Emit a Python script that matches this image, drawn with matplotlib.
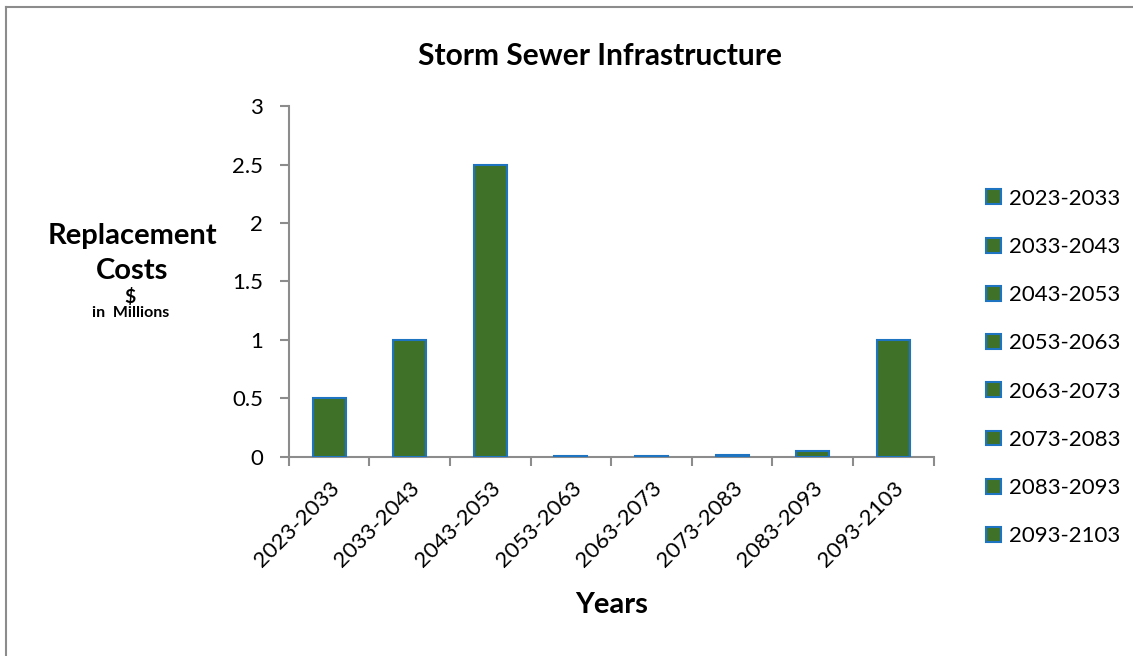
import matplotlib
matplotlib.use("Agg")
import matplotlib.pyplot as plt
from matplotlib.patches import Patch
from matplotlib.lines import Line2D

plt.rcParams['font.family'] = ['Lato', 'DejaVu Sans']

periods = ["2023-2033", "2033-2043", "2043-2053", "2053-2063",
           "2063-2073", "2073-2083", "2083-2093", "2093-2103"]
costs = [0.5, 1.0, 2.5, 0.01, 0.01, 0.02, 0.05, 1.0]
yticks = [0, 0.5, 1, 1.5, 2, 2.5, 3]
ytick_labels = ["0", "0.5", "1", "1.5", "2", "2.5", "3"]

fill = "#3F7128"
edge = "#1F74C2"
axis_grey = "#8C8C8C"

fig = plt.figure(figsize=(11.33, 6.56), dpi=100)
ax = fig.add_axes([0.255, 0.3034, 0.569, 0.535])

x = list(range(len(periods)))
ax.bar(x, costs, width=0.41, color=fill, edgecolor=edge, linewidth=1.5, zorder=3)

ax.set_xlim(-0.5, len(periods) - 0.5)
ax.set_ylim(0, 3)
ax.set_yticks(yticks)
ax.set_yticklabels(ytick_labels)
ax.set_xticks([i - 0.5 for i in range(len(periods) + 1)])
ax.set_xticklabels([])
ax.set_xticks(x, minor=True)
ax.set_xticklabels(periods, minor=True, rotation=45, ha='right',
                   rotation_mode='anchor', fontsize=16)
ax.tick_params(axis='x', which='minor', length=0, pad=15)
ax.tick_params(axis='x', which='major', length=6.5, color=axis_grey, width=1.5)
ax.tick_params(axis='y', length=6.5, color=axis_grey, width=1.5, labelsize=16, pad=12)

for s in ['top', 'right']:
    ax.spines[s].set_visible(False)
for s in ['left', 'bottom']:
    ax.spines[s].set_color(axis_grey)
    ax.spines[s].set_linewidth(1.5)

fig.text(0.530, 0.914, "Storm Sewer Infrastructure", ha='center', va='center',
         fontsize=21.5, fontweight='bold')
fig.text(0.540, 0.078, "Years", ha='center', va='center',
         fontsize=21, fontweight='bold')

# y-axis caption, stacked beside the axis
fig.text(0.1165, 1 - 236 / 656, "Replacement", ha='center', va='center',
         fontsize=21, fontweight='bold')
fig.text(0.1165, 1 - 271 / 656, "Costs", ha='center', va='center',
         fontsize=21, fontweight='bold')
fig.text(0.1150, 1 - 297 / 656, "$", ha='center', va='center',
         fontsize=14, fontweight='bold')
fig.text(0.1150, 1 - 313 / 656, "in  Millions", ha='center', va='center',
         fontsize=11.5, fontweight='bold')

handles = [Patch(facecolor=fill, edgecolor=edge, linewidth=1.5, label=p) for p in periods]
fig.legend(handles=handles, loc='center left', bbox_to_anchor=(0.853, 1 - 367.5 / 656),
           frameon=False, fontsize=16, handlelength=0.65, handleheight=0.65,
           handletextpad=0.35, labelspacing=1.27)

# outer frame of the chart area
fig.add_artist(Line2D([0.0055, 1.0], [0.9895, 0.9895], transform=fig.transFigure,
                      color=axis_grey, linewidth=1.5))
fig.add_artist(Line2D([0.0055, 0.0055], [0.0, 0.9895], transform=fig.transFigure,
                      color=axis_grey, linewidth=1.5))

fig.savefig("out.png", dpi=100, facecolor="white")
